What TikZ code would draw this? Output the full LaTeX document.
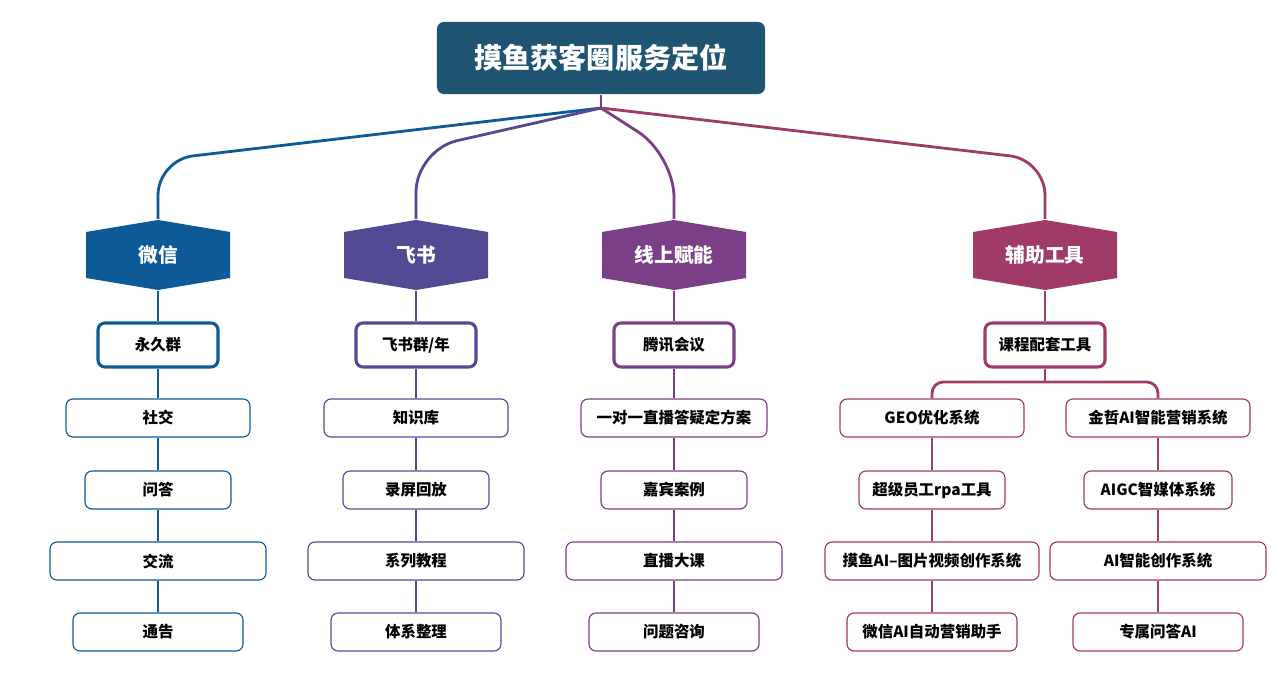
\documentclass[tikz,border=0pt]{standalone}
\usepackage{fontspec}
\setmainfont{Noto Sans CJK SC}
\usetikzlibrary{positioning}
\definecolor{TopC}{HTML}{1F5572}
\definecolor{WxC}{HTML}{0E5A96}
\definecolor{FsC}{HTML}{524A92}
\definecolor{XsC}{HTML}{7A3F86}
\definecolor{FzC}{HTML}{A03A68}
\begin{document}
\begin{tikzpicture}[x=0.025cm,y=-0.025cm,line width = 1.6pt,
  every node/.style={font=\bfseries\fontsize{11}{13}\selectfont},
  title/.style={rectangle,rounded corners=5pt,fill=TopC,text=white,minimum width=8.2cm,minimum height=1.8cm,font=\bfseries\fontsize{20}{24}\selectfont},
  hexa/.style={text=white,minimum width=3.6cm,minimum height=1.75cm,font=\bfseries\fontsize{14}{16}\selectfont},
  mid/.style={rectangle,rounded corners=5pt,draw=#1,line width=2.2pt,fill=white,minimum height=1.1cm,minimum width=3cm},
  leaf/.style={rectangle,rounded corners=5pt,draw=#1,line width=0.8pt,fill=white,minimum height=0.95cm},
  link/.style={draw=#1,line width=2pt}]
\useasboundingbox (0,0) rectangle (1280,681);

% title
\node[title] (Top) at (601,58) {摸鱼获客圈服务定位};
\coordinate (Hub) at (601,108);
\draw[link=XsC] (Top.south) -- (Hub);

% hexagons
\foreach \x/\c/\n/\t in {158/WxC/WX/微信, 416/FsC/FS/飞书, 674/XsC/XS/线上赋能, 1045/FzC/FZ/辅助工具}{
  \fill[\c] (\x-72,232) -- (\x,220) -- (\x+72,232) -- (\x+72,278) -- (\x,290) -- (\x-72,278) -- cycle;
  \node[hexa] (\n) at (\x,255) {\t};
}
\draw[link=WxC,rounded corners=25pt] (Hub) -- (158,160) -- (WX.north);
\draw[link=FsC,rounded corners=30pt] (Hub) -- (416,150) -- (WX.north -| FS);
\draw[link=XsC,rounded corners=30pt] (Hub) -- (674,155) -- (WX.north -| XS);
\draw[link=FzC,rounded corners=25pt] (Hub) -- (1045,160) -- (WX.north -| FZ);

% second level
\node[mid=WxC] (WX0) at (158,345) {永久群};
\node[mid=FsC] (FS0) at (416,345) {飞书群/年};
\node[mid=XsC] (XS0) at (674,345) {腾讯会议};
\node[mid=FzC] (FZ0) at (1045,345) {课程配套工具};
\draw[link=WxC] (WX) -- (WX0);
\draw[link=FsC] (FS) -- (FS0);
\draw[link=XsC] (XS) -- (XS0);
\draw[link=FzC] (FZ) -- (FZ0);

% leaves
\foreach \n/\c/\x/\w/\y/\t/\p in {
  WX1/WxC/158/4.6/418/社交/WX0, WX2/WxC/158/3.65/490/问答/WX1, WX3/WxC/158/5.4/561/交流/WX2, WX4/WxC/158/4.25/632/通告/WX3,
  FS1/FsC/416/4.6/418/知识库/FS0, FS2/FsC/416/3.65/490/录屏回放/FS1, FS3/FsC/416/5.4/561/系列教程/FS2, FS4/FsC/416/4.25/632/体系整理/FS3,
  XS1/XsC/674/4.65/418/一对一直播答疑定方案/XS0, XS2/XsC/674/3.65/490/嘉宾案例/XS1, XS3/XsC/674/5.4/561/直播大课/XS2, XS4/XsC/674/4.25/632/问题咨询/XS3}{
  \node[leaf=\c,minimum width=\w cm] (\n) at (\x,\y) {\t};
  \draw[link=\c] (\p) -- (\n);
}
\foreach \n/\x/\w/\y/\t/\p in {
  GL1/932/4.6/418/GEO优化系统/GL0, GL2/932/3.65/490/超级员工rpa工具/GL1, GL3/932/5.35/561/摸鱼AI--图片视频创作系统/GL2, GL4/932/4.25/632/微信AI自动营销助手/GL3,
  GR1/1158/4.6/418/金哲AI智能营销系统/GR0, GR2/1158/3.7/490/AIGC智媒体系统/GR1, GR3/1158/5.4/561/AI智能创作系统/GR2, GR4/1158/4.25/632/专属问答AI/GR3}{
  \ifnum\y=418 \else
  \node[leaf=FzC,minimum width=\w cm] (\n) at (\x,\y) {\t};
  \draw[link=FzC] (\p) -- (\n);
  \fi
  \ifnum\y=418
  \node[leaf=FzC,minimum width=\w cm] (\n) at (\x,\y) {\t};
  \fi
}
\coordinate (Split) at (1045,382);
\draw[link=FzC] (FZ0) -- (Split);
\draw[link=FzC,rounded corners=8pt] (GL1) -- (932,382) -- (1158,382) -- (GR1);
\end{tikzpicture}
\end{document}
